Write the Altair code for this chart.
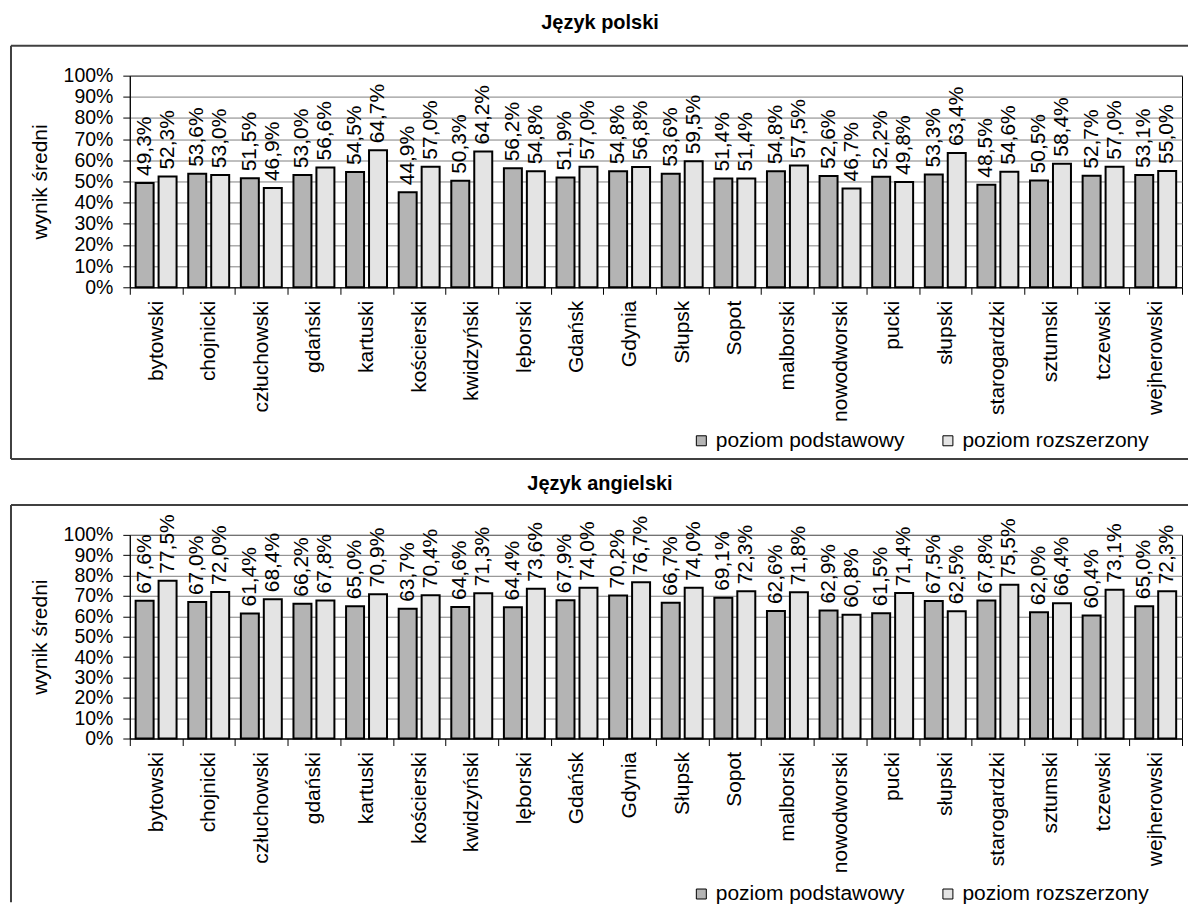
import altair as alt
import pandas as pd

districts = ["bytowski", "chojnicki", "człuchowski", "gdański", "kartuski",
             "kościerski", "kwidzyński", "lęborski", "Gdańsk", "Gdynia",
             "Słupsk", "Sopot", "malborski", "nowodworski", "pucki",
             "słupski", "starogardzki", "sztumski", "tczewski", "wejherowski"]
series = ["poziom podstawowy", "poziom rozszerzony"]

pl_basic = [49.3, 53.6, 51.5, 53.0, 54.5, 44.9, 50.3, 56.2, 51.9, 54.8,
            53.6, 51.4, 54.8, 52.6, 52.2, 53.3, 48.5, 50.5, 52.7, 53.1]
pl_ext = [52.3, 53.0, 46.9, 56.6, 64.7, 57.0, 64.2, 54.8, 57.0, 56.8,
          59.5, 51.4, 57.5, 46.7, 49.8, 63.4, 54.6, 58.4, 57.0, 55.0]
en_basic = [67.6, 67.0, 61.4, 66.2, 65.0, 63.7, 64.6, 64.4, 67.9, 70.2,
            66.7, 69.1, 62.6, 62.9, 61.5, 67.5, 67.8, 62.0, 60.4, 65.0]
en_ext = [77.5, 72.0, 68.4, 67.8, 70.9, 70.4, 71.3, 73.6, 74.0, 76.7,
          74.0, 72.3, 71.8, 60.8, 71.4, 62.5, 75.5, 66.4, 73.1, 72.3]

titles = ["Język polski", "Język angielski"]
y_ticks = [0, 10, 20, 30, 40, 50, 60, 70, 80, 90, 100]
y_title = "wynik średni"

FONT = "Liberation Sans"
FS = 21
W = 1054
FRAME = "#404040"


def make_df(basic, ext):
    rows = []
    for i, d in enumerate(districts):
        for s, v in zip(series, (basic[i], ext[i])):
            rows.append({"district": d, "series": s, "value": v,
                         "label": f"{v:.1f}".replace(".", ",") + "%"})
    return pd.DataFrame(rows)


def panel(basic, ext, title, h, frame_bottom, legend_y, title_y, close_bottom):
    df = make_df(basic, ext)
    base = alt.Chart(df)
    x = alt.X("district:N", sort=districts, title=None,
              scale=alt.Scale(paddingInner=0, paddingOuter=0),
              axis=alt.Axis(labelAngle=270, tickBand="extent", tickSize=7,
                            labelPadding=6, labelFontSize=FS, grid=False,
                            labelLimit=0, labelOverlap=False))
    xo = alt.XOffset("series:N", sort=series,
                     scale=alt.Scale(paddingInner=0.217, paddingOuter=0.254))
    y = alt.Y("value:Q", scale=alt.Scale(domain=[0, 100], nice=False),
              axis=alt.Axis(values=y_ticks, labelExpr="datum.value + '%'",
                            title=y_title, grid=True, gridColor="#808080",
                            tickSize=7, labelPadding=10, labelFontSize=19.5,
                            labelOverlap=False,
                            titleFontSize=FS, titleFontWeight="normal",
                            titlePadding=13))
    bars = base.mark_bar(stroke="black", strokeWidth=2).encode(
        x=x, xOffset=xo, y=y,
        color=alt.Color("series:N", sort=series,
                        scale=alt.Scale(domain=series, range=["#b4b4b4", "#e4e4e4"]),
                        legend=alt.Legend(orient="none", legendX=562, legendY=legend_y,
                                          direction="horizontal", title=None,
                                          symbolType="square", symbolSize=100,
                                          symbolStrokeColor="black", symbolStrokeWidth=1,
                                          labelFontSize=FS, labelFont=FONT,
                                          labelColor="black", labelOffset=4,
                                          labelLimit=0, padding=0,
                                          columnPadding=32)),
    )
    labels = base.mark_text(angle=270, align="left", baseline="middle", dx=7,
                            fontSize=FS, font=FONT, color="black").encode(
        x=x, xOffset=xo, y=y, text="label:N")

    one = pd.DataFrame({"t": [title]})
    ttl = alt.Chart(one).mark_text(fontSize=20, fontWeight="bold", font=FONT,
                                   align="center", baseline="middle",
                                   color="black").encode(
        x=alt.value(471), y=alt.value(title_y), text="t:N")
    top_rule = alt.Chart(one).mark_rule(color=FRAME, strokeWidth=2).encode(
        x=alt.value(-119), x2=alt.value(W + 6), y=alt.value(-30))
    left_rule = alt.Chart(one).mark_rule(color=FRAME, strokeWidth=2).encode(
        x=alt.value(-119), y=alt.value(-30), y2=alt.value(frame_bottom))
    layers = [bars, labels, ttl, top_rule, left_rule]
    if close_bottom:
        layers.append(alt.Chart(one).mark_rule(color=FRAME, strokeWidth=2).encode(
            x=alt.value(-119), x2=alt.value(W + 6), y=alt.value(frame_bottom)))
    return alt.layer(*layers).properties(width=W, height=h)


c1 = panel(pl_basic, pl_ext, titles[0], 212, 384, 355, -53, True)
c2 = panel(en_basic, en_ext, titles[1], 204, 368, 349, -51, False)

chart = alt.vconcat(c1, c2, spacing=248, bounds="flush").resolve_scale(
    color="independent"
).resolve_legend(color="independent").properties(
    padding={"left": 1, "top": 3, "right": 0, "bottom": 0}
).configure_view(stroke="black", strokeWidth=1).configure_axis(
    labelFont=FONT, titleFont=FONT, labelColor="black", titleColor="black",
    domainColor="black", tickColor="black", domainWidth=1
).configure_legend(labelFont=FONT)

chart.save("out.html", embed_options={"renderer": "svg", "actions": False})
